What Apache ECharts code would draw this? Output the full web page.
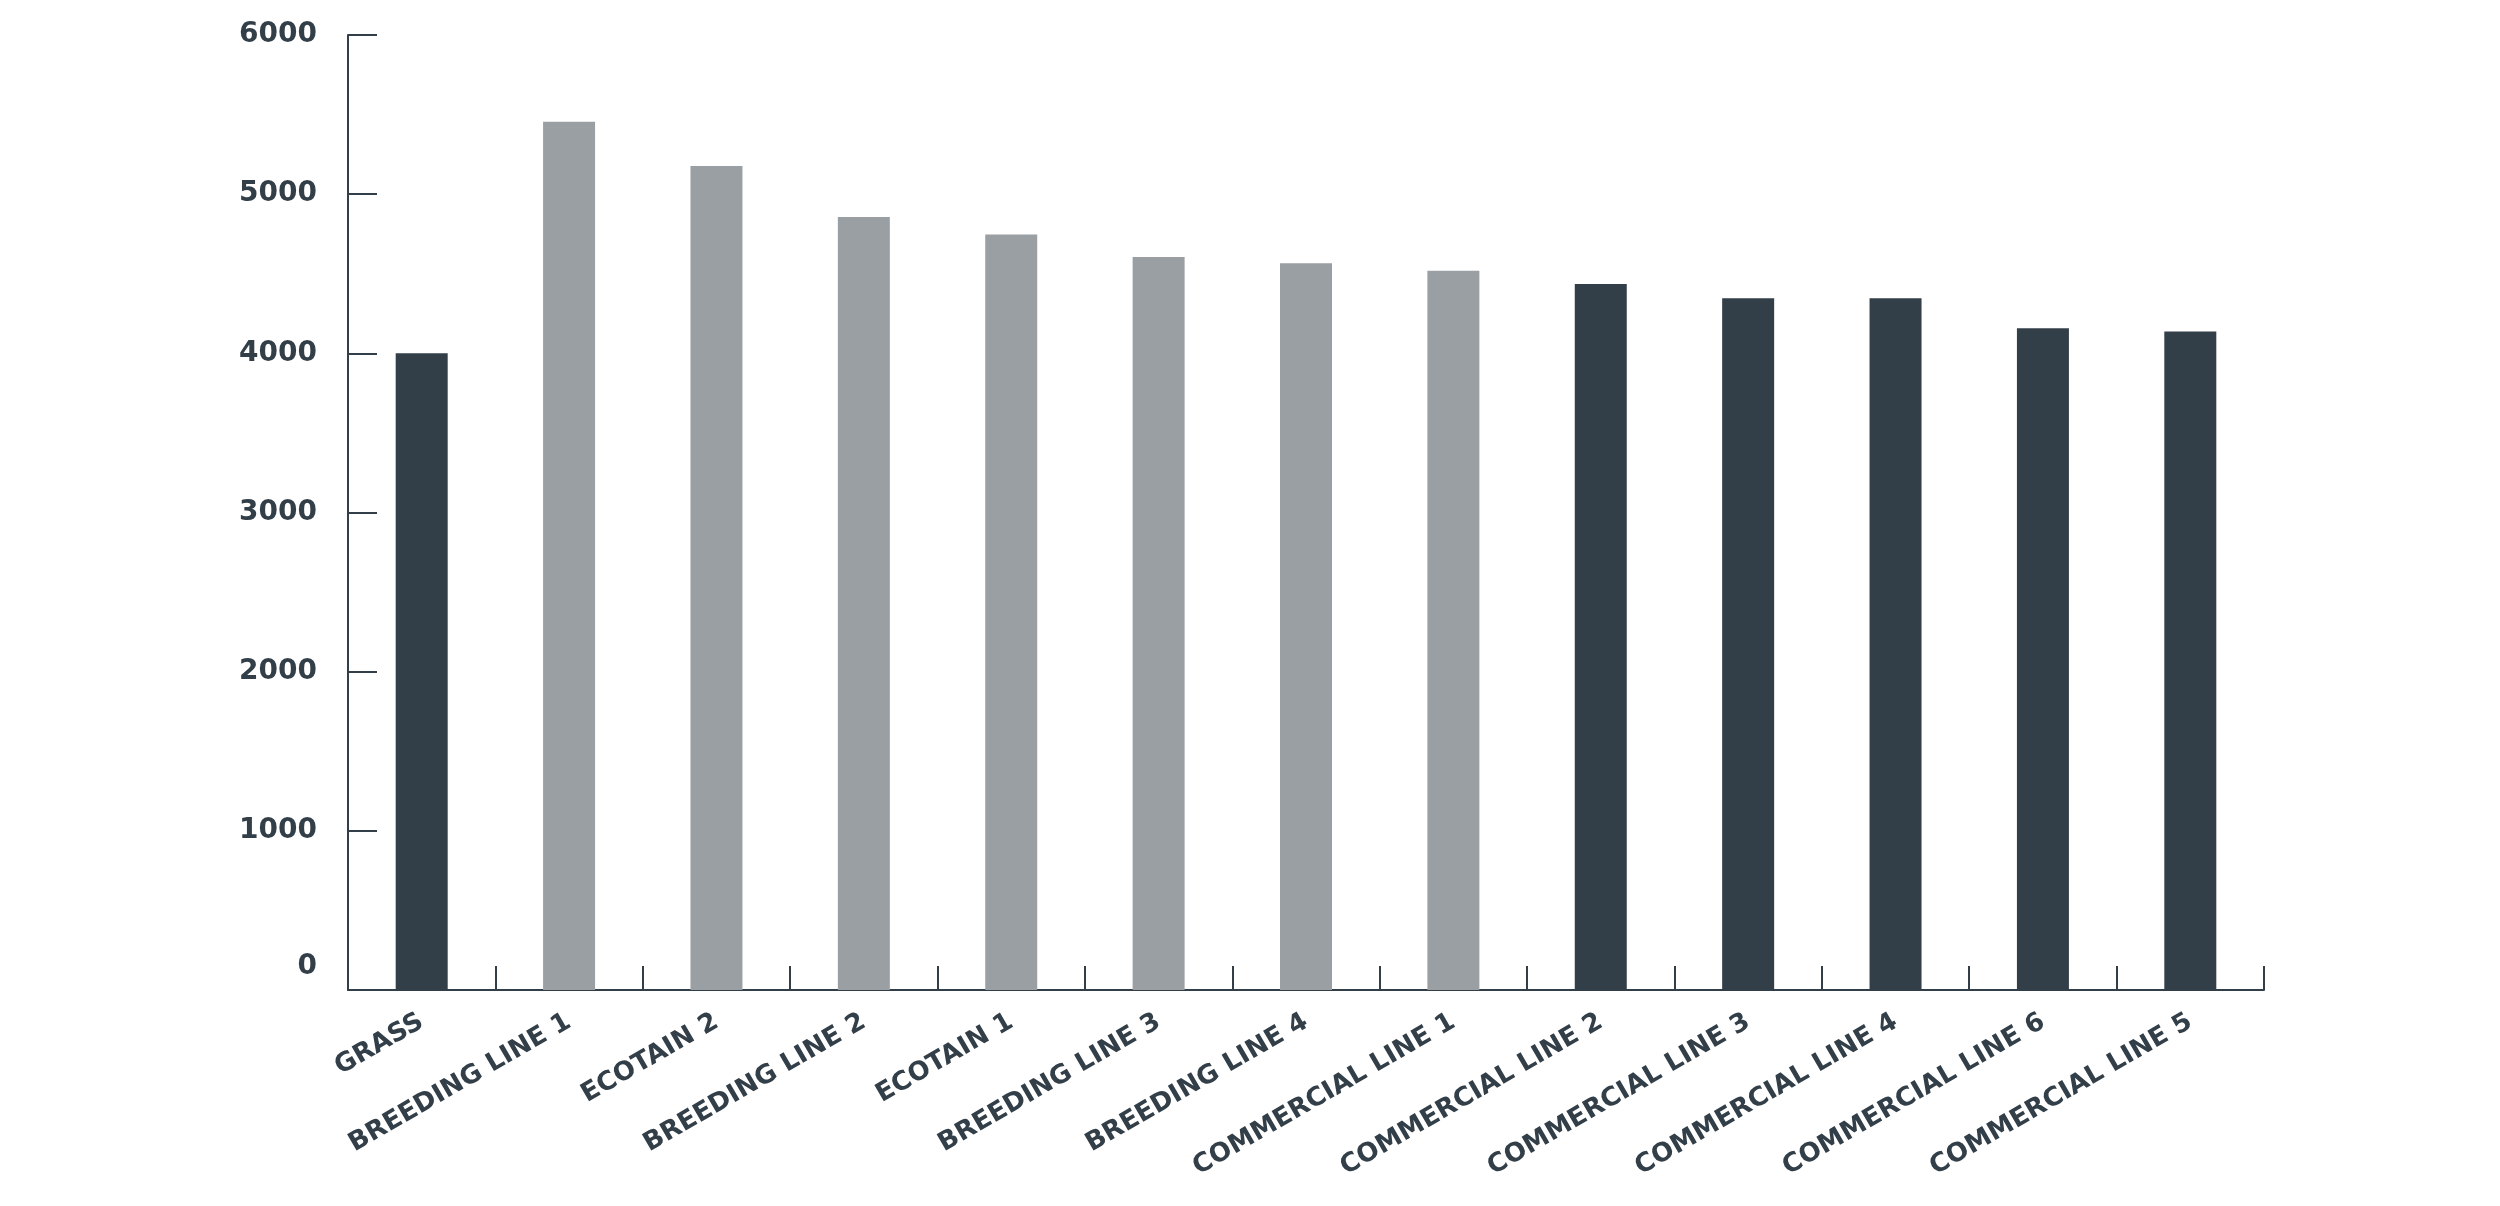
<!DOCTYPE html>
<html>
<head>
<meta charset="utf-8">
<script src="https://cdn.jsdelivr.net/npm/echarts@6/dist/echarts.min.js"></script>
<style>
html,body{margin:0;padding:0;background:#fff;}
#chart{width:2500px;height:1206px;}
</style>
</head>
<body>
<div id="chart"></div>
<script>
const categories = ['GRASS','BREEDING LINE 1','ECOTAIN 2','BREEDING LINE 2','ECOTAIN 1','BREEDING LINE 3','BREEDING LINE 4','COMMERCIAL LINE 1','COMMERCIAL LINE 2','COMMERCIAL LINE 3','COMMERCIAL LINE 4','COMMERCIAL LINE 6','COMMERCIAL LINE 5'];
const values = [4000, 5455, 5177, 4856, 4747, 4605, 4566, 4519, 4436, 4346, 4346, 4157, 4137];
const highlighted = [false, true, true, true, true, true, true, true, false, false, false, false, false];
const yTicks = [0, 1000, 2000, 3000, 4000, 5000, 6000];

const DARK = '#333f48';
const GREY = '#9a9fa3';
const FONT = 'DejaVu Sans';

const chart = echarts.init(document.getElementById('chart'));
chart.setOption({
  animation: false,
  backgroundColor: '#ffffff',
  grid: {left: 348, right: 236, top: 35, bottom: 216, containLabel: false},
  xAxis: {
    type: 'category',
    data: categories,
    boundaryGap: true,
    axisLine: {lineStyle: {color: DARK, width: 2}},
    axisTick: {show: true, inside: true, length: 24, lineStyle: {color: DARK, width: 2}},
    axisLabel: {rotate: 30, interval: 0, margin: 30, color: DARK, fontFamily: FONT, fontWeight: 'bold', fontSize: 26}
  },
  yAxis: {
    type: 'value',
    min: yTicks[0],
    max: yTicks[yTicks.length - 1],
    interval: 1000,
    splitLine: {show: false},
    axisLine: {show: true, lineStyle: {color: DARK, width: 2}},
    axisTick: {show: true, inside: true, length: 29, lineStyle: {color: DARK, width: 2}},
    axisLabel: {
      margin: 31, color: DARK, fontFamily: FONT, fontWeight: 'bold', fontSize: 28,
      formatter: v => v === 0 ? '{z|0}' : String(v),
      rich: {z: {padding: [0, 0, 46, 0], color: DARK, fontFamily: FONT, fontWeight: 'bold', fontSize: 28}}
    }
  },
  series: [{
    type: 'bar',
    barWidth: 52,
    data: values.map((v, i) => ({value: v, itemStyle: {color: highlighted[i] ? GREY : DARK}}))
  }]
});
</script>
</body>
</html>
